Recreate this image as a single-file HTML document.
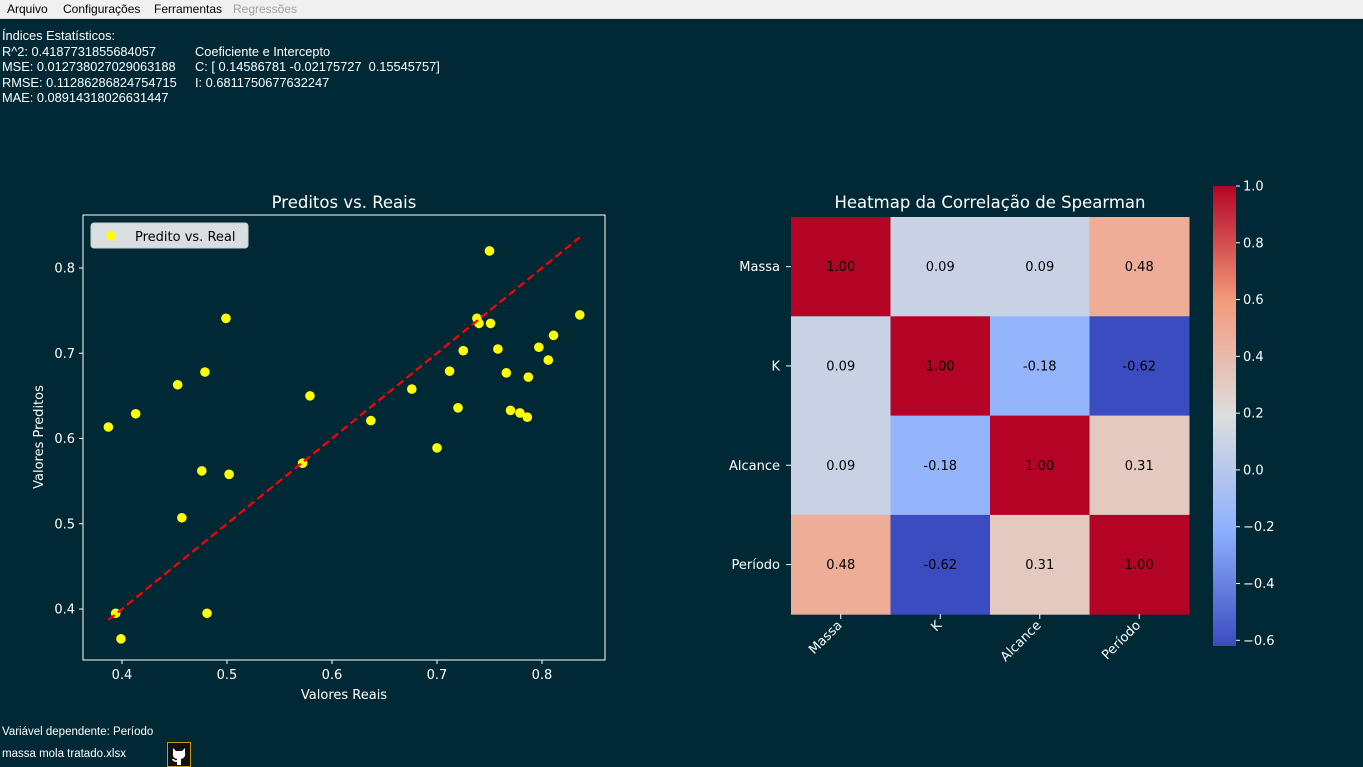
<!DOCTYPE html>
<html><head><meta charset="utf-8"><style>
body{margin:0;width:1363px;height:767px;background:#012935;overflow:hidden;position:relative;font-family:"Liberation Sans",sans-serif}
#menu{position:absolute;left:0;top:0;width:1363px;height:18px;background:#f0f0f0;border-bottom:1px solid #ddd;font-size:12px;font-family:"Liberation Sans",sans-serif}
#menu span{position:absolute;top:2px;color:#000}
.st{position:absolute;color:#fff;font-size:12.8px;line-height:15.5px;white-space:pre}
.bt{position:absolute;color:#fff;font-size:11.5px;font-family:"Liberation Sans",sans-serif}
svg{position:absolute;left:0;top:0}
svg text{font-family:"DejaVu Sans","Liberation Sans",sans-serif}
</style></head><body>
<div id="menu">
<span style="left:7px">Arquivo</span>
<span style="left:63px">Configurações</span>
<span style="left:154px">Ferramentas</span>
<span style="left:233px;color:#a0a0a0">Regressões</span>
</div>
<div class="st" style="left:2px;top:28px">Índices Estatísticos:
R^2: 0.4187731855684057
MSE: 0.012738027029063188
RMSE: 0.11286286824754715
MAE: 0.08914318026631447</div>
<div class="st" style="left:195px;top:43.5px">Coeficiente e Intercepto
C: [ 0.14586781 -0.02175727  0.15545757]
I: 0.6811750677632247</div>
<div class="bt" style="left:2px;top:726px">Variável dependente: Período</div>
<div class="bt" style="left:2px;top:748px">massa mola tratado.xlsx</div>
<div style="position:absolute;left:167px;top:742px;width:24px;height:25px;border:1px solid #c8961e;background:#111;box-sizing:border-box">
<svg width="22" height="23" viewBox="0 0 22 23" style="position:absolute;left:0;top:0"><path d="M5 5 L8 8 L14 8 L17 5 L17 10 Q18 15 13 16 L13 22 L9 22 L9 19 Q5 19 4 16 L6 16 Q7 18 9 17 L9 16 Q4 15 5 10 Z" fill="#fff"/></svg></div>
<svg id="chart" width="1363" height="767"></svg>
<script>
const realVals=[0.387,0.394,0.399,0.413,0.453,0.457,0.476,0.479,0.481,0.499,0.502,0.572,0.579,0.637,0.676,0.700,0.712,0.720,0.725,0.738,0.740,0.750,0.751,0.758,0.766,0.770,0.779,0.786,0.787,0.797,0.806,0.811,0.836];
const predVals=[0.6135,0.395,0.365,0.629,0.663,0.507,0.562,0.678,0.395,0.741,0.558,0.571,0.650,0.621,0.658,0.589,0.679,0.636,0.703,0.741,0.735,0.820,0.735,0.705,0.677,0.633,0.630,0.625,0.672,0.707,0.692,0.721,0.745];
const xTicks=[0.4,0.5,0.6,0.7,0.8];
const yTicks=[0.4,0.5,0.6,0.7,0.8];
const hmLabels=["Massa","K","Alcance","Período"];
const corr=[[1.00,0.09,0.09,0.48],[0.09,1.00,-0.18,-0.62],[0.09,-0.18,1.00,0.31],[0.48,-0.62,0.31,1.00]];
const cbTicks=[1.0,0.8,0.6,0.4,0.2,0.0,-0.2,-0.4,-0.6];
const cbLabels=["1.0","0.8","0.6","0.4","0.2","0.0","−0.2","−0.4","−0.6"];

const svg=document.getElementById('chart');
const NS='http://www.w3.org/2000/svg';
function mk(tag,attrs,parent){const e=document.createElementNS(NS,tag);for(const k in attrs)e.setAttribute(k,attrs[k]);(parent||svg).appendChild(e);return e;}
function tx(x,y,s,attrs){const e=mk('text',Object.assign({x:x,y:y,fill:'#fff','font-size':13},attrs||{}));e.textContent=s;return e;}

const sx=v=>122+(v-0.4)*1050;
const sy=v=>609-(v-0.4)*852.5;
const box=mk('rect',{x:83,y:215,width:522,height:445,fill:'none',stroke:'#fff','stroke-width':1});


xTicks.forEach(t=>{const x=sx(t);mk('line',{x1:x,x2:x,y1:660,y2:664,stroke:'#fff'});
const l=tx(x,679,String(t),{'text-anchor':'middle'});});
yTicks.forEach(t=>{const y=sy(t);mk('line',{x1:79,x2:83,y1:y,y2:y,stroke:'#fff'});
const l=tx(75,y+4.5,String(t),{'text-anchor':'end'});});
let e=tx(344,208,'Preditos vs. Reais',{'text-anchor':'middle','font-size':16.5});

e=tx(344,699,'Valores Reais',{'text-anchor':'middle'});

e=tx(0,0,'Valores Preditos',{'text-anchor':'middle',transform:'translate(43,437) rotate(-90)'});

realVals.forEach((v,i)=>{const c=mk('circle',{cx:sx(v),cy:sy(predVals[i]),r:4.8,fill:'#ffff00'});
});
const mn=Math.min(...realVals),mx=Math.max(...realVals);
e=mk('line',{x1:sx(mn),y1:sy(mn),x2:sx(mx),y2:sy(mx),stroke:'#ff0000','stroke-width':2.2,'stroke-dasharray':'8,4'});

const lg=mk('g',{});

mk('rect',{x:91,y:223,width:157,height:25,rx:3,fill:'#fff','fill-opacity':0.85,stroke:'#ccc'},lg);
mk('circle',{cx:111,cy:236,r:4.8,fill:'#ffff00'},lg);
e=tx(135,241,'Predito vs. Real',{fill:'#000'});lg.appendChild(e);

const stops=[[0,59,76,192],[0.25,141,176,254],[0.5,221,221,221],[0.75,244,154,123],[1,180,4,38]];
const vmin=-0.62,vmax=1.0;
function cmap(v){let t=(v-vmin)/(vmax-vmin);t=Math.max(0,Math.min(1,t));
for(let i=0;i<stops.length-1;i++){const a=stops[i],b=stops[i+1];if(t<=b[0]){const f=(t-a[0])/(b[0]-a[0]);
return `rgb(${Math.round(a[1]+f*(b[1]-a[1]))},${Math.round(a[2]+f*(b[2]-a[2]))},${Math.round(a[3]+f*(b[3]-a[3]))})`;}}return 'rgb(180,4,38)';}
const hx0=791,hy0=217,cw=99.5,ch=99.3;
e=tx(990,208,'Heatmap da Correlação de Spearman',{'text-anchor':'middle','font-size':16.5});

corr.forEach((row,r)=>row.forEach((v,c)=>{
const rc=mk('rect',{x:hx0+c*cw,y:hy0+r*ch,width:cw+0.5,height:ch+0.5,fill:cmap(v)});

const t=tx(hx0+c*cw+cw/2,hy0+r*ch+ch/2+4.5,v.toFixed(2),{'text-anchor':'middle',fill:'#000'});
}));
hmLabels.forEach((s,i)=>{const y=hy0+i*ch+ch/2;mk('line',{x1:786,x2:791,y1:y,y2:y,stroke:'#fff'});
let l=tx(780,y+4.5,s,{'text-anchor':'end'});
const x=hx0+i*cw+cw/2;mk('line',{x1:x,x2:x,y1:614,y2:619,stroke:'#fff'});
l=tx(0,0,s,{'text-anchor':'end',transform:`translate(${x+2},${626}) rotate(-45)`});});
const cy=v=>186+(1.0-v)*(460/1.62);
const defs=mk('defs',{});const gr=mk('linearGradient',{id:'cg',x1:0,y1:1,x2:0,y2:0},defs);
for(let i=0;i<=20;i++){const t=i/20;mk('stop',{offset:t,'stop-color':cmap(vmin+t*(vmax-vmin))},gr);}
e=mk('rect',{x:1213,y:186,width:23,height:460,fill:'url(#cg)'});

cbTicks.forEach((t,i)=>{const y=cy(t);mk('line',{x1:1236,x2:1240,y1:y,y2:y,stroke:'#fff'});
const l=tx(1243,y+4.5,cbLabels[i]);});
</script>
</body></html>
